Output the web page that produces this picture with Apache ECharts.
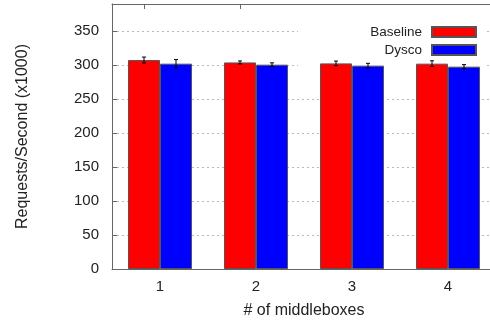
<!DOCTYPE html>
<html>
<head>
<meta charset="utf-8">
<script src="https://cdn.jsdelivr.net/npm/echarts@6/dist/echarts.min.js"></script>
<style>
  html, body { margin: 0; padding: 0; background: #fff; }
  #chart { width: 490px; height: 321px; }
</style>
</head>
<body>
<div id="chart"></div>
<script>
// data
var categories = ['1', '2', '3', '4'];
var baseline = [307.5, 304.0, 302.6, 302.2];
var baselineErr = [4.4, 2.2, 3.4, 4.2];
var dysco = [302.2, 300.7, 299.3, 297.8];
var dyscoErr = [6.0, 2.7, 3.4, 3.0];
var yTicks = [0, 50, 100, 150, 200, 250, 300, 350];

var FONT = "'Liberation Sans', Arial, sans-serif";
var BAR_W = 32;

var chart = echarts.init(document.getElementById('chart'));

// error bars: shift left/right by half a bar width
function errSeries(name, vals, errs, shift) {
  return {
    name: name,
    type: 'custom',
    z: 5,
    data: vals.map(function (v, i) { return [i, v, errs[i]]; }),
    renderItem: function (params, api) {
      var i = api.value(0), v = api.value(1), e = api.value(2);
      var hi = api.coord([i, v + e]);
      var lo = api.coord([i, v - e]);
      var x = hi[0] + shift * BAR_W / 2;
      var cap = 2;
      var st = { stroke: '#000', lineWidth: 1 };
      return {
        type: 'group',
        children: [
          { type: 'line', shape: { x1: x, y1: hi[1], x2: x, y2: lo[1] }, style: st },
          { type: 'line', shape: { x1: x - cap, y1: hi[1], x2: x + cap, y2: hi[1] }, style: st },
          { type: 'line', shape: { x1: x - cap, y1: lo[1], x2: x + cap, y2: lo[1] }, style: st }
        ]
      };
    }
  };
}

var option = {
  animation: false,
  textStyle: { fontFamily: FONT },
  grid: { left: 112, right: -6, top: 4, bottom: 52, outerBoundsMode: 'none', containLabel: false },
  legend: {
    data: ['Baseline', 'Dysco'],
    orient: 'vertical',
    right: 13,
    top: 25,
    align: 'right',
    icon: 'rect',
    itemWidth: 44,
    itemHeight: 10,
    itemGap: 4,
    padding: 0,
    textStyle: { fontSize: 13.5, color: '#222', fontFamily: FONT, padding: [0, 5, 0, 0] }
  },
  // blank key area (gnuplot clears the grid behind the key)
  graphic: [{
    type: 'rect',
    z: 1,
    shape: { x: 298, y: 5, width: 186, height: 67 },
    style: { fill: '#fff' },
    silent: true
  }],
  xAxis: [{
    type: 'category',
    data: categories,
    position: 'bottom',
    name: '# of middleboxes',
    nameLocation: 'middle',
    nameGap: 34,
    nameTextStyle: { fontSize: 16, color: '#222' },
    axisLine: { lineStyle: { color: '#666', width: 1 } },
    axisTick: { show: false },
    axisLabel: { fontSize: 15, color: '#222', margin: 10 }
  }, {
    // mirrored frame on top, ticks at the first bar of each group
    type: 'category',
    position: 'top',
    data: ['', '', '', '', '', '', '', '', '', '', '', ''],
    axisLine: { show: true, lineStyle: { color: '#666', width: 1 } },
    axisTick: {
      show: true, inside: true, length: 5,
      interval: function (idx) { return idx % 3 === 1; },
      lineStyle: { color: '#666' }
    },
    axisLabel: { show: false }
  }],
  yAxis: {
    type: 'value',
    min: 0,
    max: 390,
    interval: 50,
    name: 'Requests/Second (x1000)',
    nameLocation: 'middle',
    nameGap: 81,
    nameTextStyle: { fontSize: 16, color: '#222' },
    axisLine: { show: true, lineStyle: { color: '#666', width: 1 } },
    axisTick: { show: true, inside: true, length: 5, lineStyle: { color: '#666' } },
    axisLabel: {
      fontSize: 15, color: '#222', margin: 13,
      formatter: function (v) { return yTicks.indexOf(v) >= 0 ? String(v) : ''; }
    },
    splitLine: { show: true, lineStyle: { color: '#b8b8b8', type: [2, 3], width: 1 } }
  },
  series: [{
    name: 'Baseline',
    type: 'bar',
    data: baseline,
    barWidth: BAR_W,
    barGap: 0,
    itemStyle: { color: '#ff0000', borderColor: '#555', borderWidth: 1 }
  }, {
    name: 'Dysco',
    type: 'bar',
    data: dysco,
    barWidth: BAR_W,
    barGap: 0,
    itemStyle: { color: '#0000ff', borderColor: '#555', borderWidth: 1 }
  },
  errSeries('Baseline err', baseline, baselineErr, -1),
  errSeries('Dysco err', dysco, dyscoErr, 1)]
};

chart.setOption(option);
</script>
</body>
</html>
